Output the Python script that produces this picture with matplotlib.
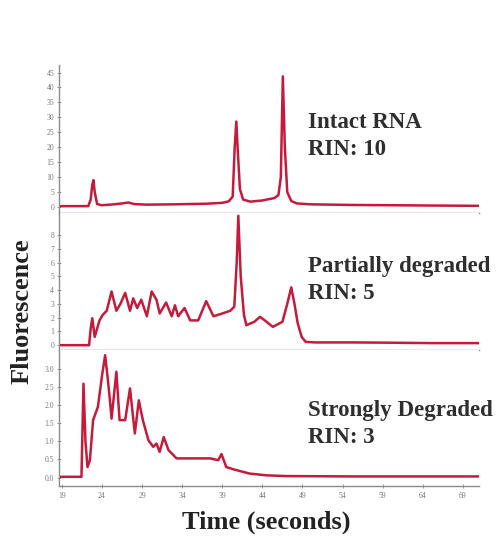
import numpy as np
import matplotlib
matplotlib.use("Agg")
import matplotlib.pyplot as plt

# electropherogram traces (time in s, fluorescence)
t_intact = [18.65, 22.3, 22.6, 22.8, 22.95, 23.1, 23.4, 24.0, 25.5, 26.5, 27.3, 28.0, 29.5, 33.0,
            37.0, 39.0, 39.8, 40.3, 40.55, 40.75, 40.95, 41.2, 41.6, 42.5, 44.0, 45.5, 46.0,
            46.3, 46.55, 46.8, 47.1, 47.6, 48.3, 50.0, 55.0, 60.0, 65.0, 71.0]
v_intact = [0.3, 0.3, 2.5, 7.5, 9.0, 5.0, 1.0, 0.6, 0.9, 1.2, 1.5, 1.0, 0.8, 0.9,
            1.1, 1.4, 1.9, 3.5, 20.0, 28.6, 18.0, 6.0, 2.5, 1.8, 2.2, 3.0, 4.0,
            10.0, 43.7, 20.0, 5.0, 2.0, 1.2, 0.9, 0.7, 0.6, 0.5, 0.4]

t_partial = [18.65, 22.4, 22.6, 22.8, 23.1, 23.7, 24.1, 24.6, 25.2, 25.8, 26.3, 26.9, 27.5, 27.9,
             28.4, 28.9, 29.6, 30.2, 30.8, 31.2, 32.0, 32.7, 33.1, 33.5, 34.3, 35.0, 36.0, 37.0,
             37.9, 39.0, 40.0, 40.5, 40.8, 41.0, 41.3, 41.7, 42.0, 43.0, 43.7, 44.3, 45.3, 46.5,
             47.1, 47.6, 48.0, 48.4, 48.9, 49.4, 50.5, 55.0, 60.0, 65.0, 71.0]
v_partial = [0.0, 0.0, 1.2, 1.96, 0.6, 1.8, 2.2, 2.5, 3.9, 2.5, 3.0, 3.8, 2.5, 3.4,
             2.7, 3.3, 2.1, 3.9, 3.3, 2.3, 3.1, 2.1, 2.9, 2.1, 2.7, 1.8, 1.8, 3.2,
             2.1, 2.3, 2.5, 2.8, 6.0, 9.4, 5.0, 2.2, 1.45, 1.7, 2.06, 1.8, 1.33, 1.7,
             3.0, 4.2, 3.0, 1.6, 0.6, 0.24, 0.2, 0.2, 0.18, 0.15, 0.15]

t_strong = [18.65, 21.45, 21.7, 21.95, 22.2, 22.5, 22.9, 23.5, 24.0, 24.4, 24.7, 25.0, 25.2, 25.8,
            26.2, 26.9, 27.5, 28.1, 28.6, 29.1, 29.8, 30.4, 30.8, 31.2, 31.7, 32.3, 33.3, 34.5,
            37.5, 38.5, 38.9, 39.5, 40.5, 42.4, 44.5, 47.0, 55.0, 71.0]
v_strong = [0.02, 0.02, 2.6, 1.0, 0.29, 0.48, 1.59, 1.96, 2.8, 3.39, 2.8, 2.14, 1.63, 2.93,
            1.59, 1.59, 2.47, 1.22, 2.14, 1.59, 1.03, 0.85, 0.94, 0.71, 1.12, 0.76, 0.53, 0.53,
            0.53, 0.48, 0.65, 0.29, 0.22, 0.11, 0.06, 0.04, 0.03, 0.03]

labels = ["Intact RNA\nRIN: 10", "Partially degraded\nRIN: 5", "Strongly Degraded\nRIN: 3"]
x_ticks = [19, 24, 29, 34, 39, 44, 49, 54, 59, 64, 69]

serif = ["Liberation Serif", "DejaVu Serif"]
red = "#c41a3c"
grey = "#8a8a8a"

fig = plt.figure(figsize=(5.0, 5.42), dpi=100)
left, width = 0.118, 0.840
a1 = fig.add_axes([left, 0.607, width, 0.273])
a2 = fig.add_axes([left, 0.354, width, 0.253])
a3 = fig.add_axes([left, 0.103, width, 0.251])

panels = [
    (a1, t_intact, v_intact, (-2.0, 47.5), np.arange(0, 46, 5), "%d"),
    (a2, t_partial, v_partial, (-0.36, 9.6), np.arange(0, 9, 1), "%d"),
    (a3, t_strong, v_strong, (-0.24, 3.53), np.arange(0, 3.01, 0.5), "%.1f"),
]
for ax, t, v, yl, yt, fmt in panels:
    ax.plot(t, v, color=red, lw=1.8, solid_joinstyle="round")
    ax.set_xlim(18.65, 71.0)
    ax.set_ylim(*yl)
    ax.set_yticks(yt)
    ax.set_yticklabels([fmt % y for y in yt])
    for s in ["top", "right"]:
        ax.spines[s].set_visible(False)
    for s in ["left", "bottom"]:
        ax.spines[s].set_color(grey)
        ax.spines[s].set_linewidth(1.0)
    ax.tick_params(axis="y", direction="inout", length=3, width=0.6, color=grey,
                   labelsize=5.5, labelcolor="#777777", pad=2)
    for lab in ax.get_yticklabels():
        lab.set_family(serif)

for ax, txt, ty in zip([a1, a2, a3], labels, [0.52, 0.51, 0.458]):
    ax.text(0.594, ty, txt, transform=ax.transAxes, family=serif, fontweight="bold",
            fontsize=16.5, color="#2e2e2e", va="center", ha="left", linespacing=1.35)

for ax in [a1, a2]:
    ax.tick_params(axis="x", bottom=False, labelbottom=False)

a3.set_xticks(x_ticks)
a3.tick_params(axis="x", direction="inout", length=3, width=0.6, color=grey,
               labelsize=5.5, labelcolor="#777777", pad=3)
for lab in a3.get_xticklabels():
    lab.set_family(serif)

fig.text(0.532, 0.037, "Time (seconds)", family=serif, fontweight="bold",
         fontsize=19, ha="center", va="center", color="#222222")
fig.text(0.044, 0.426, "Fluorescence", family=serif, fontweight="bold",
         fontsize=19, ha="center", va="center", rotation=90, color="#222222")

fig.savefig("out.png", dpi=100)
